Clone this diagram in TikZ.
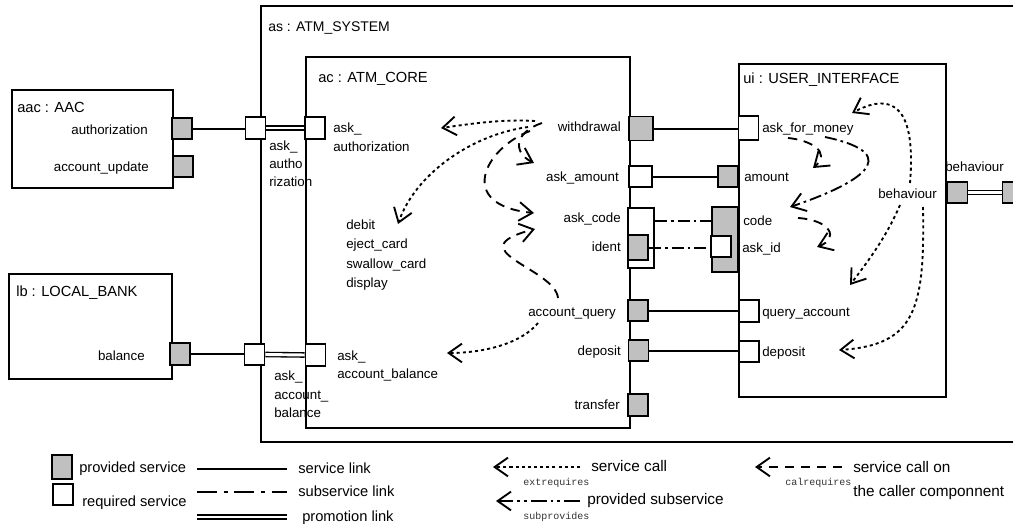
\documentclass[tikz,border=0pt]{standalone}
\usepackage{fontspec}
\setmainfont{Liberation Sans}
\setmonofont{Liberation Mono}
\usetikzlibrary{arrows.meta}
\definecolor{pg}{RGB}{192,192,192}
\begin{document}
\begin{tikzpicture}[x=0.75pt,y=-0.75pt,
  box/.style={draw, line width=1.4pt, inner sep=0pt, anchor=north west},
  port/.style={draw, line width=1.4pt, inner sep=0pt, minimum width=15pt, minimum height=16pt},
  pp/.style={port, fill=pg},
  rp/.style={port, fill=white},
  lbl/.style={inner sep=0pt, font=\fontsize{10}{12}\selectfont, text height=7.5pt, text depth=1.5pt},
  lw/.style={lbl, anchor=west},
  le/.style={lbl, anchor=east},
  ttl/.style={inner sep=0pt, anchor=west, font=\fontsize{11}{13}\selectfont},
  leg/.style={inner sep=0pt, anchor=west, font=\fontsize{11.5}{13}\selectfont},
  legs/.style={inner sep=0pt, anchor=west, font=\fontsize{11}{13}\selectfont},
  ttx/.style={inner sep=0pt, anchor=west, font=\ttfamily\fontsize{7.5}{9}\selectfont, text=black!80},
  svc/.style={line width=1.5pt},
  sublink/.style={line width=1.5pt, dash pattern=on 9pt off 3pt on 2pt off 3pt},
  promo/.style={double, line width=1pt, double distance=2.2pt},
  tipv/.style={-{Straight Barb[length=10pt,width=14pt]}},
  call/.style={tipv, line width=1.4pt, dash pattern=on 2.3pt off 2.3pt},
  calr/.style={tipv, line width=1.4pt, dash pattern=on 7pt off 5pt},
  subp/.style={tipv, line width=1.4pt, dash pattern=on 9pt off 3pt on 2pt off 3pt}
]
\useasboundingbox (0,0) rectangle (1013,528);
\clip (0,0) rectangle (1013,528);

% ---------- boxes ----------
\node[box, minimum width=577.5pt, minimum height=327pt] (as) at (260,5) {};
\node[box, minimum width=243pt, minimum height=278.25pt] (ac) at (305,56) {};
\node[box, minimum width=155.25pt, minimum height=249.75pt] (ui) at (738,63) {};
\node[box, minimum width=120.75pt, minimum height=73.5pt] (aac) at (11,89) {};
\node[box, minimum width=122.25pt, minimum height=78.75pt] (lb) at (8,273) {};

\node[inner sep=0pt, anchor=west, font=\fontsize{10.5}{12}\selectfont] (astitle) at (268,28) {as : ATM\_SYSTEM};
\node[ttl] (actitle) at (318,79) {ac : ATM\_CORE};
\node[ttl] (uititle) at (743,80) {ui : USER\_INTERFACE};
\node[ttl] (aactitle) at (17,107) {aac : AAC};
\node[ttl] (lbtitle) at (16,293) {lb : LOCAL\_BANK};

% ---------- ports ----------
\node[pp] (pauth) at (182,128.5) {};
\node[pp] (pupd) at (183,166.5) {};
\node[rp] (asauth) at (255.5,128) {};
\node[rp] (acauth) at (315,128) {};
\node[pp] (pbal) at (180,354) {};
\node[rp] (asbal) at (254.5,354.5) {};
\node[rp] (acbal) at (315.5,355) {};

\node[pp, minimum width=18pt, minimum height=18pt] (wd) at (641,128.5) {};
\node[rp, minimum width=17pt] (askam) at (640.5,176.5) {};
\node[rp, minimum width=19.5pt, minimum height=45pt] (askcode) at (641,238) {};
\node[pp, minimum height=18.75pt] (ident) at (638,247.5) {};
\node[pp] (aq) at (638,310.5) {};
\node[pp] (dep) at (638.5,350.5) {};
\node[pp] (tr) at (638,405) {};

\node[rp, minimum height=18pt] (afm) at (748.5,128) {};
\node[pp] (amt) at (728,176.5) {};
\node[pp, minimum width=19.5pt, minimum height=48.75pt] (code) at (725,239.5) {};
\node[rp] (askid) at (721,246.5) {};
\node[rp] (qa) at (749,311) {};
\node[rp] (depui) at (749,351.5) {};
\node[pp] (bui) at (957.5,192.5) {};
\node[pp] (bas) at (1012.5,192.5) {};

% ---------- labels ----------
\node[le] (l_auth) at (148,130) {authorization};
\node[le] (l_upd) at (149,167) {account\_update};
\node[le] (l_bal) at (145,356) {balance};

\node[lw] (l_asa1) at (269,146) {ask\_};
\node[lw] (l_asa2) at (269,164) {autho};
\node[lw] (l_asa3) at (269,182) {rization};
\node[lw] (l_aca1) at (333,128) {ask\_};
\node[lw] (l_aca2) at (333,147) {authorization};
\node[lw] (l_asb1) at (274,376) {ask\_};
\node[lw] (l_asb2) at (274,395) {account\_};
\node[lw] (l_asb3) at (274,413) {balance};
\node[lw] (l_acb1) at (337,356) {ask\_};
\node[lw] (l_acb2) at (337,374) {account\_balance};

\node[lw] (l_debit) at (346,225) {debit};
\node[lw] (l_eject) at (346,244) {eject\_card};
\node[lw] (l_swal) at (346,264) {swallow\_card};
\node[lw] (l_disp) at (346,283) {display};

\node[le] (l_wd) at (621,127) {withdrawal};
\node[le] (l_askam) at (619,177) {ask\_amount};
\node[le] (l_askcode) at (621,218) {ask\_code};
\node[le] (l_ident) at (621,247) {ident};
\node[le] (l_aq) at (616,312) {account\_query};
\node[le] (l_dep) at (621,351) {deposit};
\node[le] (l_tr) at (620,405) {transfer};

\node[lw] (l_afm) at (762,128) {ask\_for\_money};
\node[lw] (l_amt) at (744,177) {amount};
\node[lw] (l_code) at (743,221) {code};
\node[lw] (l_askid) at (742,248) {ask\_id};
\node[lw] (l_qa) at (762,312) {query\_account};
\node[lw] (l_depui) at (762,352) {deposit};
\node[lw] (l_beh) at (878,194) {behaviour};
\node[lw] (l_behout) at (945,167) {behaviour};

% ---------- links ----------
\draw[svc] (pauth.east) -- (pauth.east -| asauth.west);
\draw[svc] (pbal.east) -- (pbal.east -| asbal.west);
\draw[promo] (asauth.east) -- (acauth.west);
\draw[promo] (asbal.east) -- (acbal.west);
\draw[svc] (wd.east) -- (wd.east -| afm.west);
\draw[svc] (askam.east) -- (askam.east -| amt.west);
\draw[svc] (aq.east) -- (aq.east -| qa.west);
\draw[svc] (dep.east) -- (dep.east -| depui.west);
\draw[sublink] (askcode.east |- l_code.west) -- (code.west |- l_code.west);
\draw[sublink] (ident.east) -- (ident.east -| askid.west);
\draw[promo] (bui.east) -- (bas.west);

% ---------- behaviour arrows in ac ----------
\coordinate (c1s) at (535,121); \coordinate (c1e) at (441,128);
\draw[call] (c1s) .. controls (500,119) and (470,124) .. (c1e);
\coordinate (c2s) at (528,127); \coordinate (c2e) at (398,224);
\draw[call] (c2s) .. controls (470,135) and (415,175) .. (c2e);
\coordinate (c3s) at (542,123); \coordinate (c3e) at (534,163);
\draw[calr] (c3s) .. controls (515,132) and (512,152) .. (c3e);
\coordinate (c4s) at (530,131); \coordinate (c4e) at (534,213);
\draw[calr] (c4s) .. controls (485,148) and (455,205) .. (c4e);
\coordinate (c5s) at (558,298); \coordinate (c5e) at (535,229);
\draw[calr] (c5s) .. controls (555,268) and (455,250) .. (c5e);
\coordinate (c6s) at (538,323); \coordinate (c6e) at (447,353);
\draw[call] (c6s) .. controls (520,345) and (480,353) .. (c6e);

% ---------- behaviour arrows in ui ----------
\coordinate (u1s) at (910,183); \coordinate (u1e) at (852,113);
\draw[call] (u1s) .. controls (916,110) and (895,90) .. (u1e);
\coordinate (u2s) at (788,138); \coordinate (u2e) at (813,168);
\draw[calr] (u2s) .. controls (810,140) and (832,152) .. (u2e);
\coordinate (u3s) at (825,137); \coordinate (u3e) at (790,207);
\draw[subp] (u3s) .. controls (910,155) and (855,185) .. (u3e);
\coordinate (u4s) at (798,218); \coordinate (u4e) at (817,247);
\draw[calr] (u4s) .. controls (830,220) and (840,238) .. (u4e);
\coordinate (u5s) at (900,205); \coordinate (u5e) at (850,285);
\draw[call] (u5s) .. controls (885,240) and (865,265) .. (u5e);
\coordinate (u6s) at (923,207); \coordinate (u6e) at (839,350);
\draw[call] (u6s) .. controls (925,310) and (915,345) .. (u6e);

% ---------- legend ----------
\node[pp, minimum height=18pt] (lgp) at (62,467) {};
\node[legs] (lgpt) at (79,469) {provided service};
\node[rp, minimum height=15.75pt] (lgr) at (63,494.5) {};
\node[legs] (lgrt) at (82,503) {required service};

\coordinate (ls1) at (197,469); \coordinate (ls2) at (287,469);
\draw[svc] (ls1) -- (ls2);
\node[legs] (lst) at (298,468) {service link};
\coordinate (lsub1) at (197,492); \coordinate (lsub2) at (287,492);
\draw[line width=1.5pt, dash pattern=on 15pt off 5pt on 3pt off 5pt] (lsub1) -- (lsub2);
\node[legs] (lsubt) at (298,491) {subservice link};
\coordinate (lpr1) at (197,517); \coordinate (lpr2) at (287,517);
\draw[promo] (lpr1) -- (lpr2);
\node[legs] (lprt) at (302,518) {promotion link};

\coordinate (la1) at (580,467); \coordinate (la2) at (493,467);
\draw[call] (la1) -- (la2);
\node[leg] (lat) at (591,466) {service call};
\node[ttx] (latt) at (523,483) {extrequires};
\coordinate (lb1) at (580,501); \coordinate (lb2) at (496,501);
\draw[line width=1.4pt, dash pattern=on 12pt off 3pt on 2pt off 3pt on 2pt off 3pt, tipv] (lb1) -- (lb2);
\node[leg] (lbt) at (587,501) {provided subservice};
\node[ttx] (lbtt) at (523,517) {subprovides};
\coordinate (lc1) at (842,467); \coordinate (lc2) at (755,467);
\draw[calr] (lc1) -- (lc2);
\node[leg] (lct1) at (853,467) {service call on};
\node[leg] (lct2) at (853,493) {the caller componnent};
\node[ttx] (lctt) at (785,483) {calrequires};
\end{tikzpicture}
\end{document}
